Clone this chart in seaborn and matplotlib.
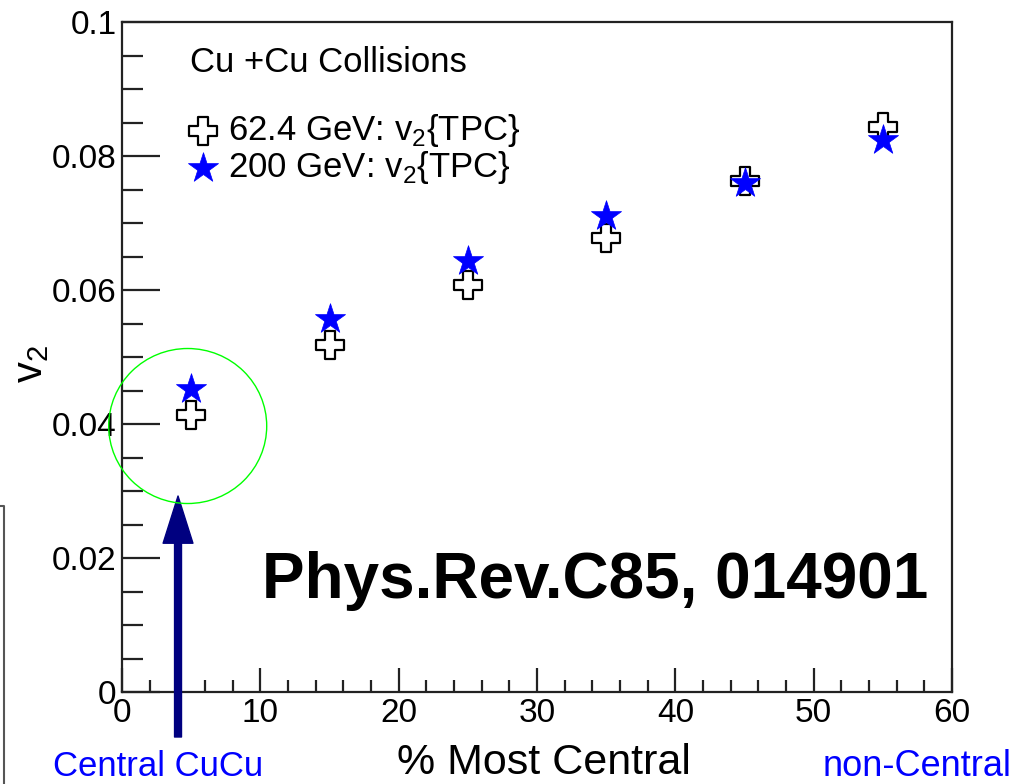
import matplotlib
matplotlib.use('Agg')
import matplotlib.pyplot as plt
import seaborn as sns
import pandas as pd
from matplotlib.patches import Ellipse
from matplotlib.lines import Line2D

# ---- data ----
centrality = [5, 15, 25, 35, 45, 55]
v2_624 = [0.0414, 0.0518, 0.0608, 0.0678, 0.0763, 0.0844]
v2_200 = [0.0452, 0.0557, 0.0643, 0.0711, 0.0760, 0.0824]
label_624 = r'62.4 GeV: v$_{\mathregular{2}}${TPC}'
label_200 = r'200 GeV: v$_{\mathregular{2}}${TPC}'
x_ticks = [0, 10, 20, 30, 40, 50, 60]
y_ticks = [0, 0.02, 0.04, 0.06, 0.08, 0.1]
y_tick_labels = ['0', '0.02', '0.04', '0.06', '0.08', '0.1']

df624 = pd.DataFrame({'cent': centrality, 'v2': v2_624})
df200 = pd.DataFrame({'cent': centrality, 'v2': v2_200})

sns.set_style('white')
plt.rcParams['font.family'] = ['Liberation Sans', 'DejaVu Sans']
plt.rcParams['mathtext.fontset'] = 'custom'
plt.rcParams['mathtext.rm'] = 'Liberation Sans'
plt.rcParams['text.color'] = 'black'
plt.rcParams['axes.labelcolor'] = 'black'
plt.rcParams['xtick.color'] = 'black'
plt.rcParams['ytick.color'] = 'black'

fig = plt.figure(figsize=(10.18, 7.84), dpi=100)
ax = fig.add_axes([122/1018, 1-692/784, 830/1018, 670/784])

sns.scatterplot(data=df624, x='cent', y='v2', marker='P', s=380,
                facecolor='white', edgecolor='black', linewidth=1.6,
                label=label_624, ax=ax, zorder=3)
sns.scatterplot(data=df200, x='cent', y='v2', marker='*', s=520,
                color='#0000ff', edgecolor='#0000ff', linewidth=0.5,
                label=label_200, ax=ax, zorder=4)

ax.set_xlim(0, 60)
ax.set_ylim(0, 0.1)
ax.set_xticks(x_ticks)
ax.set_xticklabels([str(t) for t in x_ticks])
ax.set_yticks(y_ticks)
ax.set_yticklabels(y_tick_labels)
ax.set_xticks([t for t in range(0, 61, 2) if t % 10], minor=True)
ax.set_yticks([i * 0.005 for i in range(21) if i % 4], minor=True)
ax.tick_params(axis='both', which='both', direction='in', width=1.6,
               bottom=True, left=True, top=False, right=False,
               labelsize=24, pad=4, colors='#222222', labelcolor='black')
ax.tick_params(axis='y', which='major', length=27)
ax.tick_params(axis='y', which='minor', length=15)
ax.tick_params(axis='x', which='major', length=17)
ax.tick_params(axis='x', which='minor', length=9)
for sp in ax.spines.values():
    sp.set_visible(True)
    sp.set_linewidth(1.6)
    sp.set_color('#222222')

ax.set_xlabel('% Most Central', fontsize=31, color='black', va='baseline')
ax.xaxis.set_label_coords(0.508, (692 - 774) / 670)
ax.set_ylabel(r'v$_{\mathregular{2}}$', fontsize=30, color='black')
ax.yaxis.set_label_coords(-0.085, 0.49)

leg = ax.legend(loc='upper left', bbox_to_anchor=(0.077, 0.866), frameon=False,
                fontsize=25, handletextpad=0.2, labelspacing=0.0,
                handlelength=1.0, borderaxespad=0, borderpad=0)
for t in leg.get_texts():
    t.set_color('black')
ax.text(0.082, 0.925, 'Cu +Cu Collisions', transform=ax.transAxes,
        fontsize=25, va='baseline', ha='left', color='black')

ax.text(0.57, 0.14, 'Phys.Rev.C85, 014901', transform=ax.transAxes,
        fontsize=46, fontweight='bold', ha='center', va='baseline',
        color='black')

circ = Ellipse((4.75, 0.0397), width=158/13.833, height=155/6700,
               fill=False, edgecolor='#00ff00', linewidth=1.0, zorder=5,
               clip_on=False)
ax.add_patch(circ)

ax.annotate('', xy=(4.05, (692-496)/6700), xytext=(4.05, (692-737)/6700),
            xycoords='data', textcoords='data', annotation_clip=False,
            arrowprops=dict(facecolor='#000080', edgecolor='#000080',
                            width=5, headwidth=21.5, headlength=34, shrink=0))

fig.text(158/1018, 1-776/784, 'Central CuCu', color='#0000ff', fontsize=25,
         ha='center', va='baseline')
fig.text(917/1018, 1-776/784, 'non-Central', color='#0000ff', fontsize=26,
         ha='center', va='baseline')

fig.add_artist(Line2D([0, 3.5/1018, 3.5/1018], [1-506/784, 1-506/784, 0],
                      color='#555555', linewidth=1.5))

fig.savefig('out.png', dpi=100, facecolor='white')
